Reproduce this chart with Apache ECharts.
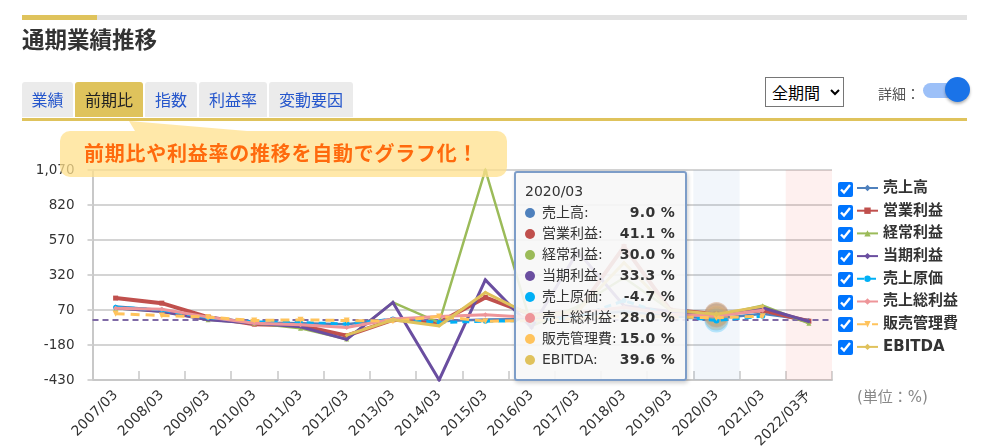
<!DOCTYPE html>
<html lang="ja">
<head>
<meta charset="utf-8">
<title>通期業績推移</title>
<script src="https://cdn.jsdelivr.net/npm/echarts@6/dist/echarts.min.js"></script>
<style>
html,body{margin:0;padding:0;background:#fff;overflow:hidden}
body{width:983px;height:448px;position:relative;font-family:"DejaVu Sans","Noto Sans CJK JP",sans-serif;color:#333}
.cjk{font-family:"Noto Sans CJK JP",sans-serif}
#chart{position:absolute;left:0;top:0;width:983px;height:448px}
.abs{position:absolute}
.bar{left:22px;top:15px;width:945px;height:5px;background:#e2e2e2}
.bar i{display:block;width:75px;height:5px;background:#dfc35c}
.title{left:22px;top:22px;font-size:22.5px;line-height:32px;font-weight:700;color:#333;white-space:nowrap}
.tab{top:82px;height:35px;line-height:35px;text-align:center;font-size:16px;background:#ebebeb;color:#2556cc;border-radius:3px 3px 0 0}
.tab.on{background:#dfc35c;color:#222}
.rule{left:22px;top:118px;width:945px;height:3px;background:#dfc35c}
select{position:absolute;left:765px;top:77px;width:79px;height:30px;font-size:16px;font-family:"Noto Sans CJK JP",sans-serif;background:#fff;color:#000;padding:0 0 0 2px}
.det{left:878px;top:83px;font-size:14px;line-height:20px;color:#555;white-space:nowrap}
.track{left:923px;top:83px;width:38px;height:15px;border-radius:8px;background:#9cc0f8}
.knob{left:945px;top:77px;width:25px;height:25px;border-radius:50%;background:#1a73e8;box-shadow:0 2px 3px rgba(0,0,0,.3)}
.tri{left:0;top:0;width:983px;height:448px;pointer-events:none}
.bubble{left:60px;top:131px;width:447px;height:46px;border-radius:10px;background:rgba(255,224,140,.75);color:#ff6a0d;font-weight:700;font-size:20px;line-height:44px;letter-spacing:.75px;text-indent:24px;white-space:nowrap}
input[type=checkbox]{position:absolute;left:838px;width:15px;height:15px;margin:0}
.unit{left:857px;top:387px;font-size:15px;line-height:20px;color:#888;white-space:nowrap}
.ttl{height:21px;line-height:21px}
</style>
</head>
<body>
<div id="chart"></div>
<div class="abs bar"><i></i></div>
<div class="abs title cjk">通期業績推移</div>
<div class="abs tab cjk" style="left:22px;width:51px">業績</div>
<div class="abs tab on cjk" style="left:75px;width:68px">前期比</div>
<div class="abs tab cjk" style="left:145px;width:52px">指数</div>
<div class="abs tab cjk" style="left:199px;width:68px">利益率</div>
<div class="abs tab cjk" style="left:269px;width:84px">変動要因</div>
<div class="abs rule"></div>
<select><option>全期間</option></select>
<div class="abs det cjk">詳細：</div>
<div class="abs track"></div><div class="abs knob"></div>
<svg class="abs tri"><polygon points="129,121 135,131 247,131" fill="rgba(255,224,140,.75)"/></svg>
<div class="abs bubble cjk">前期比や利益率の推移を自動でグラフ化！</div>
<div id="checks"></div>
<div class="abs unit">(単位：%)</div>
<script>
const categories = ['2007/03','2008/03','2009/03','2010/03','2011/03','2012/03','2013/03','2014/03','2015/03','2016/03','2017/03','2018/03','2019/03','2020/03','2021/03','2022/03予'];
const yTicks = [-430,-180,70,320,570,820,1070];
const sales   = [95,70,19,-19,-24,-31,5,-10,2,5,30,60,25,9.0,44,-2];
const opProfit= [155,119,19,-31,-40,-114,0,-19,160,36,60,523,70,41.1,68,-10];
const ordProfit=[83,60,0,-24,-60,-138,124,-20,1070,-45,95,300,70,30.0,101,-25];
const netProfit=[85,60,0,-24,-50,-140,124,-430,285,-56,487,100,60,33.3,85,-12];
const cogs    = [90,70,15,-15,-20,-30,5,-19,-10,-5,20,137,30,-4.7,25,null];
const gross   = [83,76,19,-25,-35,-55,5,24,36,17,50,90,40,28.0,68,null];
const sga     = [43,31,19,-5,0,-5,-10,24,-10,-5,10,30,20,15.0,25,null];
const ebitda  = [null,null,null,null,null,-110,0,-43,195,30,60,408,70,39.6,96,null];
const shade   = [null,null,null,null,null,null,null,null,null,null,null,null,null,1,null,1];
const shadeColors = {13:'rgba(79,129,189,.08)',15:'rgba(240,90,80,.09)'};
const highlightIndex = 13;

const defs = [
  {name:'売上高',   data:sales,    color:'#4f81bd', width:2.5, symbol:'diamond', size:4},
  {name:'営業利益', data:opProfit, color:'#c0504d', width:4,   symbol:'rect', size:5},
  {name:'経常利益', data:ordProfit,color:'#9bbb59', width:2.5, symbol:'triangle', size:5},
  {name:'当期利益', data:netProfit,color:'#6a4ea0', width:3,   symbol:'diamond', size:4},
  {name:'売上原価', data:cogs,     color:'#00b0f6', width:3,   symbol:'circle', size:5, dash:[7,5]},
  {name:'売上総利益',data:gross,   color:'#ee9599', width:3,   symbol:'diamond', size:5},
  {name:'販売管理費',data:sga,     color:'#ffc35c', width:3,   symbol:'triangle', size:6, rotate:180, dash:[9,6]},
  {name:'EBITDA',  data:ebitda,   color:'#e0c25c', width:3,   symbol:'diamond', size:4}
];

const FONT = '"DejaVu Sans","Noto Sans CJK JP",sans-serif';
const series = [{
  name:'shade', type:'bar', yAxisIndex:1, data:shade.map((v,i)=>v==null?null:{value:v,itemStyle:{color:shadeColors[i]}}),
  barWidth:'100%', silent:true, z:1, animation:false
}].concat(defs.map((d,k)=>({
  name:d.name, type:'line', data:d.data, connectNulls:false, z:3+k,
  symbol:d.symbol, symbolSize:d.size, symbolRotate:d.rotate||0, showSymbol:true,
  itemStyle:{color:d.color},
  lineStyle:{color:d.color,width:d.width,type:d.dash||'solid',join:'miter'},
  emphasis:{disabled:true},
  animation:false,
  markPoint:{silent:true,animation:false,symbol:'circle',symbolSize:24,label:{show:false},
    itemStyle:{color:d.color,opacity:.25},
    data:[{coord:[highlightIndex,d.data[highlightIndex]]}]},
  markLine: d.name==='当期利益' ? {silent:true,animation:false,symbol:'none',label:{show:false},
    lineStyle:{color:'#7f6aa6',type:[6,4],width:2},data:[{yAxis:0}]} : undefined
})));

const chart = echarts.init(document.getElementById('chart'),null,{renderer:'canvas'});
chart.setOption({
  animation:false,
  textStyle:{fontFamily:FONT},
  grid:{left:92.5,right:151,top:170,bottom:68,containLabel:false,outerBoundsMode:'none'},
  legend:{
    show:true, orient:'vertical', left:856, top:180.5, padding:0, selectedMode:false,
    data:defs.map(d=>d.name), itemWidth:21, itemHeight:8, itemGap:7.7,
    textStyle:{fontFamily:FONT,fontSize:15,fontWeight:'bold',color:'#333',lineHeight:15,padding:[0,0,0,0]}
  },
  tooltip:{
    trigger:'axis', alwaysShowContent:true, showContent:true, triggerOn:'none',
    axisPointer:{type:'none'}, transitionDuration:0, confine:false,
    position:[514,171], padding:0, borderWidth:0, backgroundColor:'transparent',
    extraCssText:'box-shadow:none;',
    formatter:function(ps){
      const rows = ps.filter(p=>p.seriesName!=='shade').map(p=>
        '<div style="display:flex;align-items:center;height:21px;line-height:21px">'+
        '<span style="width:10px;height:10px;border-radius:50%;background:'+p.color+';display:inline-block;margin-right:7px;flex:none"></span>'+
        '<span style="flex:1;white-space:nowrap">'+p.seriesName+':</span>'+
        '<b style="white-space:nowrap;letter-spacing:.3px">'+Number(p.value).toFixed(1)+' %</b></div>'
      ).join('');
      return '<div style="box-sizing:border-box;width:173px;height:210px;padding:8px 10px 0 9px;background:rgba(247,247,247,.9);border:2px solid #7d9dc8;border-radius:3px;box-shadow:1px 2px 4px rgba(0,0,0,.2);font:14px '+FONT.replace(/"/g,"'")+';color:#333">'+
        '<div class="ttl">'+ps[0].axisValue+'</div>'+rows+'</div>';
    }
  },
  xAxis:{
    type:'category', data:categories, boundaryGap:true,
    axisLine:{onZero:false,lineStyle:{color:'#c8c8c8',width:2}},
    axisTick:{show:true,inside:true,length:9,lineStyle:{color:'#c8c8c8',width:1.5},alignWithLabel:false},
    axisLabel:{rotate:45,margin:13,fontSize:14,color:'#333',interval:0,fontFamily:FONT}
  },
  yAxis:[{
    type:'value', min:-430, max:1070, interval:250,
    axisLine:{show:true,lineStyle:{color:'#c8c8c8',width:2}},
    axisTick:{show:true,length:5,lineStyle:{color:'#d4d4d4',width:2},customValues:yTicks},
    axisLabel:{fontSize:13.5,color:'#333',margin:18,customValues:yTicks,fontFamily:FONT,
      formatter:v=>Number(v).toLocaleString('en-US')},
    splitLine:{show:true,lineStyle:{color:'#d4d4d4',width:2}}
  },{
    type:'value', min:0, max:1, show:false, splitLine:{show:false}
  }],
  series:series
});
chart.dispatchAction({type:'showTip',seriesIndex:1,dataIndex:highlightIndex});

const checks = document.getElementById('checks');
const checkTops = [182,205,227,250,272,295,317,340];
defs.forEach((d,i)=>{
  const c=document.createElement('input');
  c.type='checkbox'; c.checked=true; c.style.top=checkTops[i]+'px'; c.setAttribute('aria-label',d.name);
  checks.appendChild(c);
});
</script>
</body>
</html>
